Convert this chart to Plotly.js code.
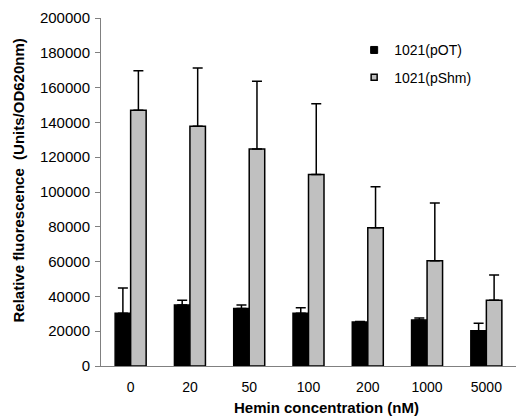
<!DOCTYPE html>
<html><head><meta charset="utf-8">
<script src="https://cdn.plot.ly/plotly-3.0.1.min.js"></script>
<style>html,body{margin:0;padding:0;background:#fff}</style>
</head><body>
<div id="chart" style="width:517px;height:416px"></div>
<script>
const categories = ['0','20','50','100','200','1000','5000'];
const potValues = [30300, 35000, 33000, 30300, 25300, 26400, 20300];
const potErrors = [14500, 2800, 2000, 3200, 300, 1200, 4200];
const pshmValues = [147000, 137800, 124700, 110100, 79500, 60500, 37800];
const pshmErrors = [22700, 33500, 38900, 40600, 23500, 33200, 14500];
const seriesNames = ['1021(pOT)', '1021(pShm)'];
const zeros = categories.map(() => 0);

const font = 'Liberation Sans, Arial, sans-serif';
const traces = [
  {type:'bar', name:seriesNames[0], x:categories, y:potValues, showlegend:false,
   marker:{color:'#000000', line:{color:'#000000', width:1.5}},
   error_y:{type:'data', symmetric:false, array:potErrors, arrayminus:zeros, color:'#000000', thickness:1.5, width:5}},
  {type:'bar', name:seriesNames[1], x:categories, y:pshmValues, showlegend:false,
   marker:{color:'#c0c0c0', line:{color:'#000000', width:1.5}},
   error_y:{type:'data', symmetric:false, array:pshmErrors, arrayminus:zeros, color:'#000000', thickness:1.5, width:5}},
  {type:'scatter', mode:'markers', name:seriesNames[0], x:[null], y:[null], legendgroup:'a',
   marker:{symbol:'square', size:7, color:'#000000', line:{color:'#000000', width:1}}},
  {type:'scatter', mode:'markers', name:seriesNames[1], x:[null], y:[null], legendgroup:'b',
   marker:{symbol:'square', size:6, color:'#c0c0c0', line:{color:'#000000', width:1.5}}}
];
const layout = {
  width:517, height:416,
  margin:{l:101, r:1, t:18, b:50},
  paper_bgcolor:'#ffffff', plot_bgcolor:'#ffffff',
  font:{family:font, size:14, color:'#000000'},
  barmode:'group', bargap:0.477, bargroupgap:0,
  showlegend:true,
  legend:{x:0.61, y:0.953, xanchor:'left', yanchor:'top', bgcolor:'rgba(0,0,0,0)',
          traceorder:'grouped', tracegroupgap:6, itemwidth:30, font:{family:font, size:14}},
  xaxis:{type:'category', showline:true, linecolor:'#808080', linewidth:1,
         ticks:'', showgrid:false, ticklabelstandoff:8, tickfont:{family:font, size:14}},
  yaxis:{range:[0,200000], showline:true, linecolor:'#808080', linewidth:1,
         ticks:'outside', ticklen:5, tickcolor:'#808080', dtick:20000, showgrid:false,
         zeroline:false, tickformat:'d', ticklabelstandoff:2, tickfont:{family:font, size:15}},
  annotations:[
    {text:'<b>Hemin concentration (nM)</b>', xref:'paper', yref:'paper', x:(326-101)/415, y:-(408-366)/348,
     xanchor:'center', yanchor:'middle', showarrow:false, font:{family:font, size:15}},
    {text:'<b>Relative fluorescence  (Units/OD620nm)</b>', xref:'paper', yref:'paper', x:-(101-18.5)/415, y:(366-181)/348,
     xanchor:'center', yanchor:'middle', showarrow:false, textangle:-90, font:{family:font, size:15}}
  ]
};
Plotly.newPlot('chart', traces, layout, {displayModeBar:false, staticPlot:true});
</script>
</body></html>
